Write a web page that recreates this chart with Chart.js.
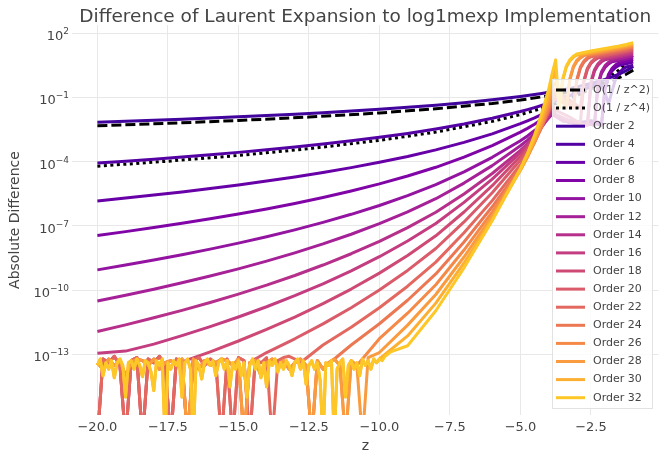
<!DOCTYPE html>
<html>
<head>
<meta charset="utf-8">
<title>Difference of Laurent Expansion to log1mexp Implementation</title>
<script src="https://cdn.jsdelivr.net/npm/chart.js@4.4.1/dist/chart.umd.min.js"></script>
<style>
  html, body { margin: 0; padding: 0; background: #ffffff; }
  #wrap { position: relative; width: 664px; height: 456px; }
  canvas { display: block; }
</style>
</head>
<body>
<div id="wrap"><canvas id="chart" width="664" height="456"></canvas></div>
<script>
// ---------------- data ----------------
const chartTitle = 'Difference of Laurent Expansion to log1mexp Implementation';
const xTitle = 'z';
const yTitle = 'Absolute Difference';

const xTickValues = [-20, -17.5, -15, -12.5, -10, -7.5, -5, -2.5];
const yTickValues = [1e2, 1e-1, 1e-4, 1e-7, 1e-10, 1e-13];
const yTickExponents = ['2', '\u22121', '\u22124', '\u22127', '\u221210', '\u221213'];

// reference curves
const zRef = [-20, -17.5, -15, -12.5, -10, -8, -6, -5, -4, -3, -2.5, -2, -1.5, -1.25, -1];
const refZ2 = [4.68e-3, 6.11e-3, 8.31e-3, 1.20e-2, 1.87e-2, 2.92e-2, 5.20e-2, 7.48e-2, 0.117, 0.208, 0.299, 0.468, 0.831, 1.20, 1.87];
const refZ4 = [6.1e-5, 1.04e-4, 1.93e-4, 4.0e-4, 9.77e-4, 2.39e-3, 7.54e-3, 1.56e-2, 3.82e-2, 0.121, 0.250, 0.611, 1.93, 4.0, 9.77];

// grid of z for the expansion orders
const z = [-20, -19, -18, -17, -16, -15, -14, -13, -12, -11, -10, -9, -8, -7, -6, -5, -4.75, -4.5, -4.25, -4, -3.875,
  -3.75, -3.625, -3.5, -3.375, -3.25, -3.125, -3, -2.875, -2.75, -2.625, -2.5, -2.375, -2.25, -2.125, -2, -1.875, -1.75, -1.625, -1.5, -1.375, -1.25, -1.125, -1];

const orders = [2, 4, 6, 8, 10, 12, 14, 16, 18, 20, 22, 24, 26, 28, 30, 32];

const order2 = [6.92e-3, 7.67e-3, 8.55e-3, 9.58e-3, 1.08e-2, 1.23e-2, 1.41e-2, 1.64e-2, 1.92e-2, 2.29e-2, 2.77e-2, 3.42e-2, 4.33e-2, 5.65e-2, 7.69e-2, 0.111, 0.123, 0.137, 0.153, 0.173, 0.184,
  0.197, null, 0.226, null, 0.262, null, 0.308, null, 0.366, null, 0.443, null, 0.547, null, 0.692, null, 0.904, null, 1.23, null, 1.77, 2.19, 2.77];
const order4 = [8.51e-5, 1.04e-4, 1.30e-4, 1.63e-4, 2.08e-4, 2.69e-4, 3.54e-4, 4.76e-4, 6.56e-4, 9.29e-4, 1.36e-3, 2.07e-3, 3.33e-3, 5.68e-3, 1.05e-2, 2.18e-2, 2.67e-2, 3.32e-2, 4.17e-2, 5.32e-2, 6.04e-2,
  6.89e-2, null, 9.08e-2, null, 0.122, null, 0.168, null, 0.238, null, 0.348, null, 0.468, 0.355, 0.158, 5.01e-2, 0.195, 0.741, 1.41, 2.07, 2.63, null, 3.16];
const order6 = [1.45e-6, 1.97e-6, 2.72e-6, 3.83e-6, 5.51e-6, 8.11e-6, 1.23e-5, 1.92e-5, 3.10e-5, 5.22e-5, 9.25e-5, 1.74e-4, 3.52e-4, 7.85e-4, 1.98e-3, 5.93e-3, 8.05e-3, 1.11e-2, 1.57e-2, 2.26e-2, 2.74e-2,
  1.5e-2, null, 1.0e-2, null, 8e-3, null, 7e-3, null, 7e-3, null, 8e-3, null, 7e-3, 5e-3, 0.240, 0.912, 1.74, 2.51, 3.16, null, 3.72, null, 4.47];
const order8 = [3.55e-8, 5.35e-8, 8.24e-8, 1.30e-7, 2.11e-7, 3.54e-7, 6.15e-7, 1.11e-6, 2.11e-6, 4.24e-6, 9.08e-6, 2.11e-5, 5.41e-5, 1.62e-4, 5.60e-4, 2.37e-3, 3.56e-3, 5.58e-3, 9.16e-3, 1.57e-2, 2.13e-2,
  1.4e-2, null, 9e-3, null, 7e-3, null, 6e-3, null, 6e-3, null, 6e-3, null, 5.5e-3, 5e-3, 0.316, 1.20, 2.29, 3.31, 4.17, null, 4.90, null, 5.89];
const order10 = [8.71e-10, 1.46e-9, 2.50e-9, 4.43e-9, 8.11e-9, 1.55e-8, 3.08e-8, 6.47e-8, 1.44e-7, 3.44e-7, 8.91e-7, 2.56e-6, 8.30e-6, 3.33e-5, 1.58e-4, 9.46e-4, 1.58e-3, 2.81e-3, 5.35e-3, 1.09e-2, 1.67e-2,
  1.3e-2, null, 8e-3, null, null, null, 6e-3, null, null, null, 5.5e-3, 5e-3, 0.347, 1.32, 2.51, 3.63, 4.57, null, 5.25, null, 6.17, null, 7.41];
const order12 = [3.09e-11, 5.71e-11, 1.09e-10, 2.17e-10, 4.50e-10, 9.75e-10, 2.23e-9, 5.43e-9, 1.42e-8, 4.04e-8, 1.26e-7, 4.49e-7, 1.84e-6, 9.91e-6, 6.47e-5, 5.47e-4, 1.01e-3, 2.04e-3, 4.50e-3, 1.10e-2, 1.88e-2,
  1.3e-2, null, 8e-3, null, null, null, 6e-3, null, null, null, 5.5e-3, 5e-3, 0.417, 1.58, 3.02, 4.37, 5.50, null, 6.31, null, 7.41, null, 8.91];
const order14 = [1.15e-12, 2.36e-12, 5.02e-12, 1.12e-11, 2.61e-11, 6.44e-11, 1.69e-10, 4.78e-10, 1.47e-9, 4.95e-9, 1.88e-8, 8.22e-8, 4.28e-7, 3.08e-6, 2.77e-5, 3.31e-4, 6.78e-4, 1.55e-3, 3.97e-3, 1.15e-2, 2.22e-2,
  1.4e-2, null, 8e-3, null, null, null, 6e-3, null, null, 5e-3, 0.437, 1.66, 3.16, 4.57, 5.75, null, null, null, 7.59, null, 8.91, null, 10.7];
const order16 = [1.12e-13, 1.4e-13, 2.96e-13, 7.40e-13, 1.95e-12, 5.47e-12, 1.65e-11, 5.41e-11, 1.95e-10, 7.83e-10, 3.60e-9, 1.95e-8, 1.28e-7, 1.24e-6, 1.52e-5, 2.59e-4, 5.86e-4, 1.52e-3, 4.53e-3, 1.56e-2, 3.39e-2,
  1.6e-2, null, null, null, 8e-3, null, null, null, null, 5e-3, 0.513, 1.95, 3.72, 5.37, 6.76, null, null, null, 8.91, null, 10.5, null, 12.6];
const order18 = [null, null, null, 4.37e-14, 1.30e-13, 4.15e-13, 1.44e-12, 5.47e-12, 2.31e-11, 1.11e-10, 6.14e-10, 4.09e-9, 3.40e-8, 4.42e-7, 7.48e-6, 1.79e-4, 4.50e-4, 1.32e-3, 4.59e-3, 1.88e-2, 4.59e-2,
  2.5e-2, null, null, null, 1.2e-2, null, null, 6e-3, 0.525, 2.0, 3.80, 5.50, 6.92, null, 7.94, null, null, null, 10.5, null, 12.3, null, 14.8];
const order20 = [null, null, null, null, null, null, 1.20e-13, 5.27e-13, 2.61e-12, 1.49e-11, 1.0e-10, 8.24e-10, 8.67e-9, 1.51e-7, 3.52e-6, 1.19e-4, 3.31e-4, 1.11e-3, 4.44e-3, 2.17e-2, 5.94e-2,
  7.94e-2, null, null, 0.1, null, null, null, 3.16e-2, 0.603, 2.29, 4.37, 6.31, 7.94, null, 9.12, null, null, null, 12.0, null, 14.1, null, 17.0];
const order22 = [null, null, null, null, null, null, null, null, 2.70e-13, 1.83e-12, 1.49e-11, 1.51e-10, 2.01e-9, 4.70e-8, 1.50e-6, 7.21e-5, 2.22e-4, 8.41e-4, 3.92e-3, 2.29e-2, 7.03e-2,
  0.112, null, 0.126, null, null, 3.16e-2, 0.589, 2.26, 4.37, 6.31, 7.94, null, null, null, 10.5, null, null, null, 13.8, null, 16.2, null, 19.5];
const order24 = [null, null, null, null, null, null, null, null, null, 2.70e-13, 2.65e-12, 3.33e-11, 5.62e-10, 1.76e-8, 7.73e-7, 5.24e-5, 1.79e-4, 7.67e-4, 4.16e-3, 2.88e-2, 9.98e-2,
  0.178, null, null, null, null, 3.16e-2, 0.676, 2.60, 5.01, 7.24, 9.12, null, null, null, 12.0, null, null, null, 15.8, null, 18.6, null, 22.4];
const order26 = [null, null, null, null, null, null, null, null, null, null, 5.32e-13, 8.26e-12, 1.76e-10, 7.38e-9, 4.46e-7, 4.29e-5, 1.62e-4, 7.89e-4, 4.97e-3, 4.09e-2, 0.159,
  0.251, null, null, 3.16e-2, 0.631, 2.45, 4.79, 7.0, 8.91, null, 10.2, null, null, null, 13.5, null, null, null, 17.8, null, 20.9, null, 25.1];
const order28 = [null, null, null, null, null, null, null, null, null, null, 1.20e-13, 2.29e-12, 6.18e-11, 3.48e-9, 2.88e-7, 3.93e-5, 1.64e-4, 9.06e-4, 6.62e-3, 6.52e-2, 0.284,
  0.501, null, null, 3.16e-2, 0.708, 2.75, 5.37, 7.85, 10.0, null, 11.5, null, null, null, 15.1, null, null, null, 20.0, null, 23.4, null, 28.2];
const order30 = [null, null, null, null, null, null, null, null, null, null, null, 7.14e-13, 2.44e-11, 1.84e-9, 2.10e-7, 4.03e-5, 1.87e-4, 1.17e-3, 9.93e-3, 0.116, 0.571,
  2.0, 3.16e-2, 0.631, 2.51, 5.01, 7.41, 9.55, null, null, null, 12.9, null, null, null, 17.0, null, null, null, 22.4, null, 26.3, null, 31.6];
const order32 = [null, null, null, null, null, null, null, null, null, null, null, 2.50e-13, 1.08e-11, 1.09e-9, 1.71e-7, 4.65e-5, 2.39e-4, 1.70e-3, 1.67e-2, 0.233, 1.29,
  5.62, 3.16e-2, 0.708, 2.82, 5.62, 8.32, 10.7, null, null, null, 14.5, null, null, null, 19.1, null, null, null, 25.1, null, 29.5, null, 35.5];

const zNoise = [-20, -19.8, -19.6, -19.4, -19.2, -19, -18.8, -18.6, -18.4, -18.2, -18, -17.8, -17.6, -17.4, -17.2, -17, -16.8, -16.6, -16.4, -16.2,
  -16, -15.8, -15.6, -15.4, -15.2, -15, -14.8, -14.6, -14.4, -14.2, -14, -13.8, -13.6, -13.4, -13.2, -13, -12.8, -12.6, -12.4, -12.2,
  -12, -11.8, -11.6, -11.4, -11.2, -11, -10.8, -10.6, -10.4, -10.2, -10, -9.8, -9.6];
const noiseA = [1e-17, 6e-14, 4e-14, 8e-14, 3e-14, 1e-17, 5e-14, 7e-14, 1e-17, 6e-14, 4e-14, 8e-14, 3e-14, 1e-17, 6e-14, 4e-14, 1e-17, 5e-14, 7e-14, 3e-14,
  6e-14, 4e-14, 1e-17, 6e-14, 1e-17, 7e-14, 5e-14, 1e-17, 6e-14, 4e-14, 7e-14, 1e-17, 5e-14, 7e-14, 8e-14, 6e-14, 4e-14, 7e-14, 5e-14, 3e-14,
  6e-14, 4e-14, 7e-14, 5e-14, 6e-14, 4e-14, 7e-14, 5e-14, 6e-14, 8e-14, 6e-14, 9e-14, 1.2e-13];
const noiseB = [4e-14, 2e-14, 6e-14, 3e-14, 5e-14, 1e-14, 4e-14, 6e-14, 5e-14, 3e-14, 6e-14, 2e-14, 4e-14, 5e-14, 3e-14, 6e-14, 1e-17, 6e-14, 2e-14, 5e-14,
  3e-14, 4e-14, 6e-14, 5e-14, 3e-14, 6e-14, 1e-17, 4e-14, 5e-14, 1e-14, 4e-14, 6e-14, 3e-14, 5e-14, 2e-14, 4e-14, 6e-14, 3e-14, 1e-17, 5e-14,
  2e-14, 4e-14, 6e-14, 3e-14, 1e-17, 5e-14, 3e-14, 1e-17, 7e-14, 4e-14, 7e-14, 9e-14, 1.2e-13];
const zNoiseFine = [-20, -19.9, -19.8, -19.7, -19.6, -19.5, -19.4, -19.3, -19.2, -19.1,
  -19, -18.9, -18.8, -18.7, -18.6, -18.5, -18.4, -18.3, -18.2, -18.1,
  -18, -17.9, -17.8, -17.7, -17.6, -17.5, -17.4, -17.3, -17.2, -17.1,
  -17, -16.9, -16.8, -16.7, -16.6, -16.5, -16.4, -16.3, -16.2, -16.1,
  -16, -15.9, -15.8, -15.7, -15.6, -15.5, -15.4, -15.3, -15.2, -15.1,
  -15, -14.9, -14.8, -14.7, -14.6, -14.5, -14.4, -14.3, -14.2, -14.1,
  -14, -13.9, -13.8, -13.7, -13.6, -13.5, -13.4, -13.3, -13.2, -13.1,
  -13, -12.9, -12.8, -12.7, -12.6, -12.5, -12.4, -12.3, -12.2, -12.1,
  -12, -11.9, -11.8, -11.7, -11.6, -11.5, -11.4, -11.3, -11.2, -11.1,
  -11, -10.9, -10.8, -10.7, -10.6, -10.5, -10.4, -10.3, -10.2, -10.1,
  -10, -9.9, -9.8, -9.7, -9.6];
const noiseC = [3e-14, 6e-14, 1e-14, 4e-14, 2e-14, 5e-14, 8e-15, 4e-14, 6e-14, 3e-14,
  1e-15, 4e-14, 5e-14, 2e-14, 6e-14, 3e-14, 9e-15, 5e-14, 4e-14, 1.5e-14,
  2e-15, 5e-14, 3e-14, 6e-14, 1e-17, 4e-14, 2e-14, 5e-14, 3e-14, 6e-14,
  1e-15, 4e-14, 6e-14, 2e-14, 1e-17, 5e-14, 3e-14, 7e-15, 4e-14, 6e-14,
  3e-14, 5e-14, 1e-14, 4e-14, 6e-14, 2e-14, 5e-14, 3e-15, 4e-14, 2e-14,
  5e-14, 1e-14, 4e-14, 1e-15, 3e-14, 6e-14, 2e-14, 5e-14, 8e-15, 4e-14,
  3e-15, 5e-14, 3e-14, 6e-14, 1.5e-14, 4e-14, 2e-14, 5e-14, 3e-14, 1e-14,
  4e-14, 6e-14, 2e-14, 5e-14, 4e-15, 3e-14, 5e-14, 2e-14, 4e-14, 6e-15,
  1e-17, 4e-14, 3e-14, 5e-14, 1e-17, 2e-14, 4e-14, 6e-14, 1e-15, 3e-14,
  5e-14, 2e-14, 4e-14, 1e-14, 6e-14, 3e-14, 5e-14, 2e-14, 6e-14, 4e-14,
  6e-14, 5e-14, 8e-14, 1e-13, 1.3e-13];

// z where each order leaves the round-off floor (null = never on the floor)
const floorUntil = [null, null, null, null, null, null, null, null, -17.2, -14.4, -12.8, -11.6, -10.8, -10.4, -10.0, -9.6];
const floorNoise = [null, null, null, null, null, null, null, null, noiseA, noiseA, noiseA, noiseB, noiseB, noiseB, noiseC, noiseC];
const floorGrid = [null, null, null, null, null, null, null, null, zNoise, zNoise, zNoise, zNoise, zNoise, zNoise, zNoiseFine, zNoiseFine];

const orderValues = [order2, order4, order6, order8, order10, order12, order14, order16, order18, order20, order22, order24, order26, order28, order30, order32];

// ---------------- styles ----------------
const orderColors = ['#41049d', '#5402a3', '#6800a8', '#8104a7', '#9314a0', '#a62098', '#b6308b', '#c33d80',
  '#ce4a75', '#da5b69', '#e3685f', '#ec7853', '#f48948', '#f99b3e', '#fdaf31', '#fcc727'];
const FONT = '"DejaVu Sans", Verdana, sans-serif';
const TXT = '#444444';
const GRID = '#e8e8e8';

function buildSeries(k) {
  const pts = [];
  const fz = floorUntil[k];
  if (fz !== null) {
    const grid = floorGrid[k], noise = floorNoise[k];
    grid.forEach((x, i) => { if (x <= fz + 1e-9) pts.push({ x: x, y: noise[i] }); });
  }
  z.forEach((x, i) => {
    const v = orderValues[k][i];
    if (v !== null && (fz === null || x > fz)) pts.push({ x: x, y: v });
  });
  return pts;
}

const datasets = [];
datasets.push({ label: 'O(1 / z^2)', data: zRef.map((x, i) => ({ x: x, y: refZ2[i] })),
  borderColor: '#000000', borderWidth: 3, borderDash: [10, 4], pointRadius: 0, fill: false });
datasets.push({ label: 'O(1 / z^4)', data: zRef.map((x, i) => ({ x: x, y: refZ4[i] })),
  borderColor: '#000000', borderWidth: 3, borderDash: [3, 3.5], pointRadius: 0, fill: false });
orders.forEach((n, k) => {
  datasets.push({ label: 'Order ' + n, data: buildSeries(k), borderColor: orderColors[k], borderWidth: 3,
    pointRadius: 0, fill: false, borderJoinStyle: 'round' });
});
datasets.forEach((d, i) => { d.order = datasets.length - i; d.tension = 0; });

const decorPlugin = {
  id: 'decor',
  afterDraw(chart) {
    const ctx = chart.ctx;
    const area = chart.chartArea;
    const ys = chart.scales.y;
    ctx.save();
    // title
    ctx.fillStyle = TXT;
    ctx.font = '18.5px ' + FONT;
    ctx.textAlign = 'center';
    ctx.textBaseline = 'alphabetic';
    ctx.fillText(chartTitle, (area.left + area.right) / 2, 22);
    // y tick labels with superscript exponents
    yTickValues.forEach((v, i) => {
      const py = ys.getPixelForValue(v);
      ctx.font = '9px ' + FONT;
      const ew = ctx.measureText(yTickExponents[i]).width;
      ctx.font = '13px ' + FONT;
      const bw = ctx.measureText('10').width;
      const right = 69;
      ctx.textAlign = 'left';
      ctx.font = '13px ' + FONT;
      ctx.fillText('10', right - ew - bw, py + 7);
      ctx.font = '9px ' + FONT;
      ctx.fillText(yTickExponents[i], right - ew, py + 1);
    });
    // legend
    const bx = 552.5, by = 79.5, bw2 = 100, bh = 329;
    ctx.fillStyle = 'rgba(255,255,255,0.8)';
    ctx.fillRect(bx, by, bw2, bh);
    ctx.strokeStyle = '#e2e2e2';
    ctx.lineWidth = 1;
    ctx.strokeRect(bx, by, bw2, bh);
    chart.data.datasets.forEach((ds, i) => {
      const cy = 90 + i * 18.1;
      ctx.beginPath();
      ctx.setLineDash(ds.borderDash || []);
      ctx.strokeStyle = ds.borderColor;
      ctx.lineWidth = 3;
      ctx.moveTo(556, cy);
      ctx.lineTo(585, cy);
      ctx.stroke();
      ctx.setLineDash([]);
      ctx.fillStyle = TXT;
      ctx.font = '11px ' + FONT;
      ctx.textAlign = 'left';
      ctx.textBaseline = 'middle';
      ctx.fillText(ds.label, 593, cy);
    });
    ctx.restore();
  }
};

new Chart(document.getElementById('chart'), {
  type: 'line',
  data: { datasets: datasets },
  plugins: [decorPlugin],
  options: {
    responsive: false,
    animation: false,
    events: [],
    layout: { padding: { top: 25, right: 5.4, left: 0, bottom: 0 } },
    plugins: { legend: { display: false }, tooltip: { enabled: false }, title: { display: false } },
    scales: {
      x: {
        type: 'linear', min: -20.9, max: -0.1,
        afterBuildTicks: s => { s.ticks = xTickValues.map(v => ({ value: v })); },
        afterFit: s => { s.height = 41; },
        ticks: {
          callback: v => (v < 0 ? '\u2212' : '') + Math.abs(v).toFixed(1),
          font: { family: FONT, size: 13 }, color: TXT, padding: 5, maxRotation: 0, autoSkip: false
        },
        grid: { color: GRID, lineWidth: 1, drawTicks: false },
        border: { display: false },
        title: { display: true, text: xTitle, font: { family: FONT, size: 14 }, color: TXT, padding: { top: 0, bottom: 1 } }
      },
      y: {
        type: 'logarithmic', min: 1.45e-16, max: 240,
        afterBuildTicks: s => { s.ticks = yTickValues.map(v => ({ value: v })); },
        afterFit: s => { s.width = 72; },
        ticks: { display: false },
        grid: { color: GRID, lineWidth: 1, drawTicks: false },
        border: { display: false },
        title: { display: true, text: yTitle, font: { family: FONT, size: 14 }, color: TXT, padding: { top: 7, bottom: 0 } }
      }
    }
  }
});
</script>
</body>
</html>
